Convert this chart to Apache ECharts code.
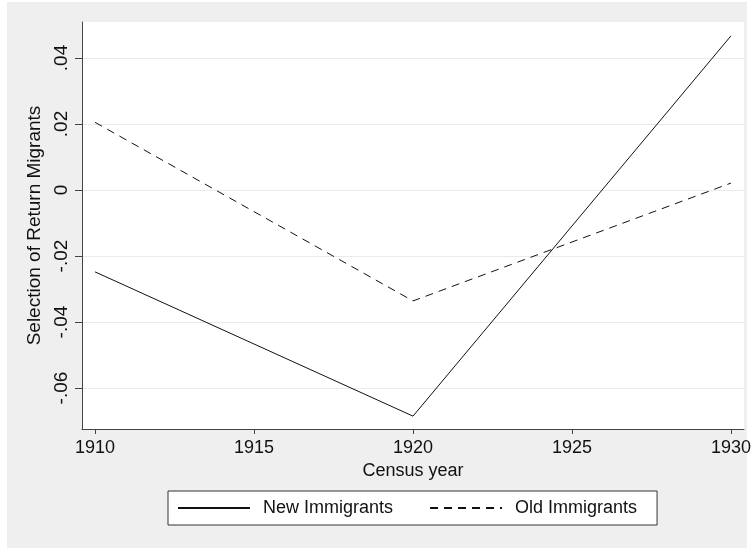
<!DOCTYPE html>
<html>
<head>
<meta charset="utf-8">
<script src="https://cdn.jsdelivr.net/npm/echarts@6/dist/echarts.min.js"></script>
<style>
  html, body { margin: 0; padding: 0; background: #ffffff; }
  #wrap { position: relative; width: 753px; height: 548px; overflow: hidden; }
  #region { position: absolute; left: 7px; top: 2px; width: 740px; height: 546px; background: #efefef; }
  #chart { position: absolute; left: 0; top: 0; width: 753px; height: 548px; }
</style>
</head>
<body>
<div id="wrap">
  <div id="region"></div>
  <div id="chart"></div>
</div>
<script>
// Census years and estimated selection of return migrants
const years = [1910, 1920, 1930];
const newImmigrants = [-0.0248, -0.0685, 0.0467];
const oldImmigrants = [0.0205, -0.0336, 0.0021];

// Axis ticks and their printed labels
const xTicks = [1910, 1915, 1920, 1925, 1930];
const yTicks = [-0.06, -0.04, -0.02, 0, 0.02, 0.04];
const yTickLabels = ['-.06', '-.04', '-.02', '0', '.02', '.04'];

const seriesNames = ['New Immigrants', 'Old Immigrants'];

const FONT = '"Liberation Sans", Arial, Helvetica, sans-serif';
const INK = '#111111';

const pairs = vals => years.map((y, i) => [y, vals[i]]);

const chart = echarts.init(document.getElementById('chart'), null, { renderer: 'canvas' });

chart.setOption({
  animation: false,
  backgroundColor: 'transparent',
  textStyle: { fontFamily: FONT, color: INK },
  grid: {
    left: 82, right: 9, top: 22, bottom: 119,
    show: true, backgroundColor: '#ffffff', borderWidth: 0,
    containLabel: false, outerBoundsMode: 'none'
  },
  xAxis: {
    type: 'value',
    min: 1909.59, max: 1930.41,
    name: 'Census year',
    nameLocation: 'middle',
    nameGap: 31,
    nameTextStyle: { fontFamily: FONT, fontSize: 18, color: INK },
    axisLine: { show: true, onZero: false, lineStyle: { color: '#444444', width: 1 } },
    axisTick: { show: true, length: 5, customValues: xTicks, lineStyle: { color: '#444444' } },
    axisLabel: {
      customValues: xTicks, margin: 10,
      fontFamily: FONT, fontSize: 18, color: INK,
      formatter: v => String(v)
    },
    splitLine: { show: false }
  },
  yAxis: {
    type: 'value',
    min: -0.0724, max: 0.0509,
    name: 'Selection of Return Migrants',
    nameLocation: 'middle',
    nameGap: 28,
    nameTextStyle: { fontFamily: FONT, fontSize: 19, color: INK },
    axisLine: { show: true, onZero: false, lineStyle: { color: '#444444', width: 1 } },
    axisTick: { show: true, length: 7, customValues: yTicks, lineStyle: { color: '#444444' } },
    axisLabel: {
      customValues: yTicks, margin: 11, rotate: 90,
      fontFamily: FONT, fontSize: 19, color: INK,
      formatter: v => {
        const i = yTicks.findIndex(t => Math.abs(t - v) < 1e-9);
        return i >= 0 ? yTickLabels[i] : '';
      }
    },
    splitLine: { show: true, lineStyle: { color: '#eaeaea', width: 1 } }
  },
  legend: {
    data: seriesNames,
    left: 168, top: 491,
    orient: 'horizontal',
    backgroundColor: '#ffffff',
    borderColor: '#333333', borderWidth: 1, borderRadius: 0,
    padding: [8, 20, 8, 9],
    itemWidth: 72, itemHeight: 14, itemGap: 36,
    itemStyle: { color: 'transparent', borderWidth: 0, opacity: 0 },
    textStyle: { fontFamily: FONT, fontSize: 18, color: INK, padding: [0, 0, 0, 8] }
  },
  series: [
    {
      name: seriesNames[0],
      type: 'line',
      data: pairs(newImmigrants),
      symbol: 'none',
      lineStyle: { color: INK, width: 1, type: 'solid' },
      itemStyle: { color: INK }
    },
    {
      name: seriesNames[1],
      type: 'line',
      data: pairs(oldImmigrants),
      symbol: 'none',
      lineStyle: { color: INK, width: 1, type: [8, 6] },
      itemStyle: { color: INK }
    }
  ]
});
</script>
</body>
</html>
